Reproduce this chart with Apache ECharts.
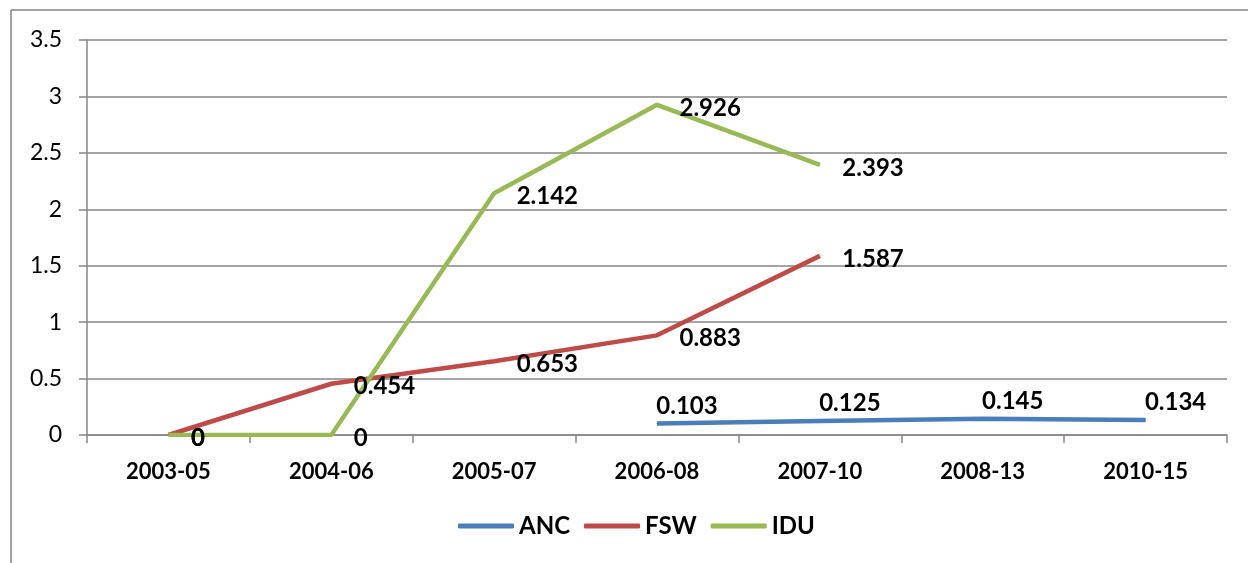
<!DOCTYPE html>
<html>
<head>
<meta charset="utf-8">
<script src="https://cdn.jsdelivr.net/npm/echarts@6/dist/echarts.min.js"></script>
<style>
  html, body { margin: 0; padding: 0; background: #fff; }
  #chart { width: 1248px; height: 563px; }
</style>
</head>
<body>
<div id="chart"></div>
<script>
// periods on the x axis
var periods = ['2003-05', '2004-06', '2005-07', '2006-08', '2007-10', '2008-13', '2010-15'];
// values per group, null where there is no survey
var anc = [null, null, null, 0.103, 0.125, 0.145, 0.134];
var fsw = [0, 0.454, 0.653, 0.883, 1.587, null, null];
var idu = [0, 0, 2.142, 2.926, 2.393, null, null];

var font = 'Lato, "Open Sans", sans-serif';
var gray = '#868686';

function lineSeries(name, data, color, labelPos) {
    return {
        name: name,
        type: 'line',
        data: data,
        symbol: 'circle',
        symbolSize: 1,
        itemStyle: { color: color },
        lineStyle: { color: color, width: 4.5 },
        label: {
            show: true,
            position: labelPos.position,
            distance: labelPos.distance,
            offset: labelPos.offset,
            color: '#000',
            fontFamily: font,
            fontWeight: 'bold',
            fontSize: 24
        },
        animation: false
    };
}

var myChart = echarts.init(document.getElementById('chart'));
myChart.setOption({
    backgroundColor: '#fff',
    grid: { left: 87, right: 21, top: 40, bottom: 128 },
    graphic: [
        { type: 'line', shape: { x1: 11, y1: 10, x2: 1248, y2: 10 }, style: { stroke: gray, lineWidth: 1.5 } },
        { type: 'line', shape: { x1: 11, y1: 10, x2: 11, y2: 563 }, style: { stroke: gray, lineWidth: 1.5 } }
    ],
    legend: {
        bottom: 20,
        left: 453,
        icon: 'roundRect',
        itemWidth: 56,
        itemHeight: 5,
        itemGap: 14,
        textStyle: { fontFamily: font, fontWeight: 'bold', fontSize: 24, color: '#000' },
        data: ['ANC', 'FSW', 'IDU']
    },
    xAxis: {
        type: 'category',
        data: periods,
        boundaryGap: true,
        axisLine: { lineStyle: { color: gray, width: 1.5 } },
        axisTick: { show: true, length: 8, lineStyle: { color: gray, width: 1.5 } },
        axisLabel: { margin: 26, fontFamily: font, fontWeight: 'bold', fontSize: 22, color: '#000' }
    },
    yAxis: {
        type: 'value',
        min: 0,
        max: 3.5,
        interval: 0.5,
        axisLine: { show: true, lineStyle: { color: gray, width: 1.5 } },
        axisTick: { show: true, length: 8, lineStyle: { color: gray, width: 1.5 } },
        splitLine: { lineStyle: { color: gray, width: 1.5 } },
        axisLabel: { margin: 25, fontFamily: font, fontSize: 23, color: '#000' }
    },
    series: [
        lineSeries('ANC', anc, '#4a7ebb', { position: 'top', distance: 5, offset: [30, 0] }),
        lineSeries('FSW', fsw, '#be4b48', { position: 'right', distance: 22, offset: [0, 3] }),
        lineSeries('IDU', idu, '#98b954', { position: 'right', distance: 22, offset: [0, 3] })
    ]
});
</script>
</body>
</html>
